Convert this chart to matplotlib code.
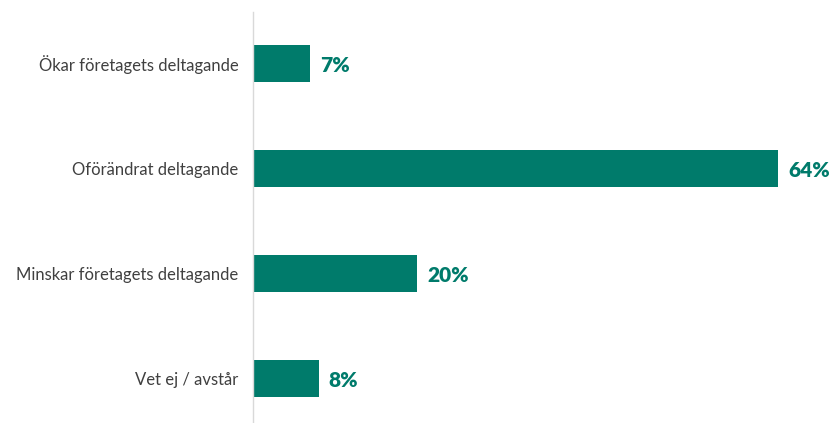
import matplotlib.pyplot as plt

categories = ["Ökar företagets deltagande", "Oförändrat deltagande",
              "Minskar företagets deltagande", "Vet ej / avstår"]
values = [7, 64, 20, 8]

bar_color = "#007b6b"
text_color = "#404040"

W, H, dpi = 834, 423, 100
fig = plt.figure(figsize=(W / dpi, H / dpi), dpi=dpi)
ax = fig.add_axes([253 / W, 0, 1 - 253 / W, 411 / H])

pos = list(range(len(categories)))
ax.barh(pos, values, height=0.35, color=bar_color)
for y, v in zip(pos, values):
    ax.text(v + 1.2, y + 0.02, f"{v}%", va="center", ha="left", color=bar_color,
            fontsize=15, fontweight="heavy", family="Lato")

ax.set_yticks(pos)
ax.set_yticklabels(categories, color=text_color, fontsize=12, family="Lato")
ax.tick_params(axis="y", length=0, pad=10.5)
ax.set_xticks([])
ax.set_xlim(0, 70.8)
ax.set_ylim(3.424, -0.49)

for s in ["top", "right", "bottom"]:
    ax.spines[s].set_visible(False)
ax.spines["left"].set_color("#d9d9d9")
ax.spines["left"].set_linewidth(1)

fig.savefig("out.png", dpi=dpi)
